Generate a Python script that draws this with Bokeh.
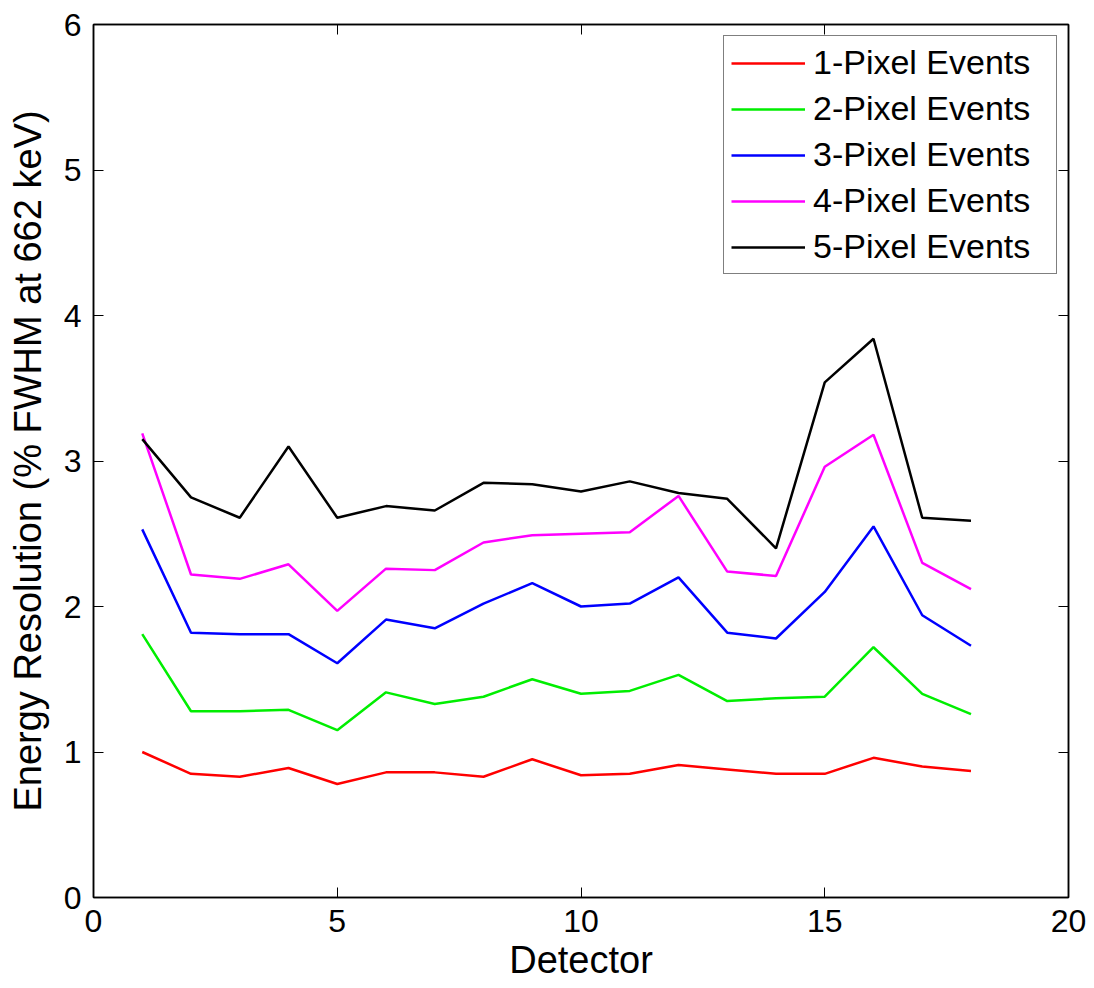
from bokeh.plotting import figure
from bokeh.models import LinearAxis, FixedTicker, Legend, LegendItem, Range1d
from bokeh.embed import file_html
from bokeh.resources import INLINE

detectors = list(range(1, 19))
one_pixel = [1.00, 0.85, 0.83, 0.89, 0.78, 0.86, 0.86, 0.83, 0.95, 0.84, 0.85, 0.91, 0.88, 0.85, 0.85, 0.96, 0.90, 0.87]
two_pixel = [1.81, 1.28, 1.28, 1.29, 1.15, 1.41, 1.33, 1.38, 1.50, 1.40, 1.42, 1.53, 1.35, 1.37, 1.38, 1.72, 1.40, 1.26]
three_pixel = [2.53, 1.82, 1.81, 1.81, 1.61, 1.91, 1.85, 2.02, 2.16, 2.00, 2.02, 2.20, 1.82, 1.78, 2.10, 2.55, 1.94, 1.73]
four_pixel = [3.19, 2.22, 2.19, 2.29, 1.97, 2.26, 2.25, 2.44, 2.49, 2.50, 2.51, 2.76, 2.24, 2.21, 2.96, 3.18, 2.30, 2.12]
five_pixel = [3.15, 2.75, 2.61, 3.10, 2.61, 2.69, 2.66, 2.85, 2.84, 2.79, 2.86, 2.78, 2.74, 2.40, 3.54, 3.84, 2.61, 2.59]

series_names = ["1-Pixel Events", "2-Pixel Events", "3-Pixel Events", "4-Pixel Events", "5-Pixel Events"]
series_values = [one_pixel, two_pixel, three_pixel, four_pixel, five_pixel]
series_colors = ["#ff0000", "#00ee00", "#0000ff", "#ff00ff", "#000000"]

x_ticks = [0, 5, 10, 15, 20]
y_ticks = [0, 1, 2, 3, 4, 5, 6]

FONT = "Liberation Sans"

p = figure(width=1094, height=988, output_backend="svg", toolbar_location=None,
           x_range=Range1d(0, 20), y_range=Range1d(0, 6),
           min_border_left=93, min_border_right=26, min_border_top=24, min_border_bottom=91,
           x_axis_label="Detector", y_axis_label="Energy Resolution (% FWHM at 662 keV)")
p.grid.visible = False
p.outline_line_color = "black"
p.outline_line_width = 1.5
p.background_fill_color = "white"
p.border_fill_color = "white"

def style_axis(ax, ticks, labels=True):
    ax.ticker = FixedTicker(ticks=ticks)
    ax.major_tick_in = 10
    ax.major_tick_out = 0
    ax.minor_tick_in = 0
    ax.minor_tick_out = 0
    ax.axis_line_color = "black"
    ax.axis_line_width = 1.5
    ax.major_tick_line_color = "black"
    ax.major_label_text_font = FONT
    ax.major_label_text_font_size = "32px"
    ax.major_label_text_color = "black"
    ax.axis_label_text_font = FONT
    ax.axis_label_text_font_size = "38px"
    ax.axis_label_text_font_style = "normal"
    ax.axis_label_text_color = "black"
    if not labels:
        ax.major_label_text_font_size = "0px"
        ax.major_label_text_alpha = 0

style_axis(p.xaxis[0], x_ticks)
style_axis(p.yaxis[0], y_ticks)
p.xaxis[0].major_label_standoff = 12
p.xaxis[0].axis_label_standoff = 4
p.yaxis[0].major_label_standoff = 12
p.yaxis[0].axis_label_standoff = 12

top_axis = LinearAxis()
style_axis(top_axis, x_ticks, labels=False)
p.add_layout(top_axis, "above")
right_axis = LinearAxis()
style_axis(right_axis, y_ticks, labels=False)
p.add_layout(right_axis, "right")
top_axis.major_label_standoff = 0
right_axis.major_label_standoff = 0

items = []
for name, vals, col in zip(series_names, series_values, series_colors):
    r = p.line(detectors, vals, line_color=col, line_width=2.5)
    items.append(LegendItem(label=name, renderers=[r]))

legend = Legend(items=items, location="top_right")
legend.label_text_font = FONT
legend.label_text_font_size = "34px"
legend.label_text_color = "black"
legend.glyph_width = 74
legend.glyph_height = 36
legend.label_height = 36
legend.label_width = 236
legend.label_standoff = 8
legend.spacing = 7
legend.padding = 7
legend.margin = 11
legend.border_line_color = "black"
legend.border_line_width = 1
legend.background_fill_color = "white"
legend.background_fill_alpha = 1
p.add_layout(legend)

open("out.html", "w").write(file_html(p, INLINE))
